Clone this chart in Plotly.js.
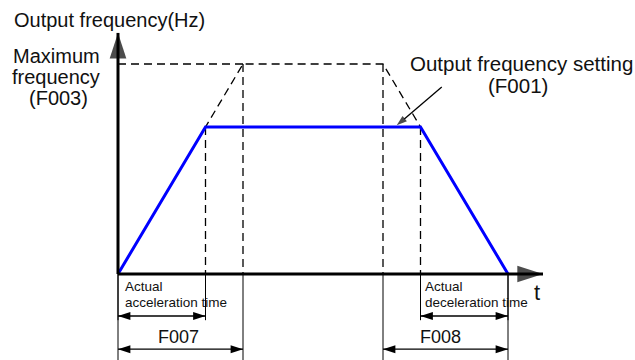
<!DOCTYPE html>
<html>
<head>
<meta charset="utf-8">
<script src="https://cdn.plot.ly/plotly-3.0.1.min.js"></script>
<style>
  html, body { margin: 0; padding: 0; background: #fff; }
  #chart { width: 635px; height: 360px; }
</style>
</head>
<body>
<div id="chart"></div>
<script>
// time in s, frequency in Hz
const outputTime = [0, 7, 24.2, 31.2];      // actual output frequency (blue)
const outputFreq = [0, 35, 35, 0];
const settingTime = [0, 10, 21.2, 31.2];    // ramp to maximum frequency (F007 / F008)
const settingFreq = [0, 50, 50, 0];
const guideTime = [7, 10, 21.2, 24.2];      // dashed drop lines
const guideFreq = [35, 50, 50, 35];
const spanStart = [0, 0, 24.2, 21.2];       // dimension arrows under the axis
const spanEnd = [7, 10, 31.2, 31.2];
const spanRow = ['actual', 'setting', 'actual', 'setting'];
const pointerTime = [25.9, 22.3];
const pointerFreq = [44.5, 35.4];
const axisTipTime = 34;
const axisTipFreq = 57.4;

const rowY = { actual: -10, setting: -17.9 };
const rowExt = { actual: -11, setting: -22 };
const FONT = 'Liberation Sans, Arial, sans-serif';

function initChart() {
    const traces = [];

    // dashed ramp to max frequency + level line from the axis
    traces.push({
        x: [...settingTime, null, 0, settingTime[1]],
        y: [...settingFreq, null, settingFreq[1], settingFreq[1]],
        mode: 'lines',
        line: { color: '#000', width: 1.3, dash: '8px,5px' }
    });

    // dashed drop lines
    const gx = [], gy = [];
    guideTime.forEach((t, i) => { gx.push(t, t, null); gy.push(guideFreq[i], 0, null); });
    traces.push({ x: gx, y: gy, mode: 'lines', line: { color: '#000', width: 1.3, dash: '8px,5px' } });

    // thin extension lines below the time axis
    const ex = [], ey = [];
    spanStart.forEach((s, i) => {
        const e = spanEnd[i];
        const bottom = rowExt[spanRow[i]];
        ex.push(s, s, null, e, e, null);
        ey.push(0, bottom, null, 0, bottom, null);
    });
    traces.push({ x: ex, y: ey, mode: 'lines', line: { color: '#000', width: 1 } });

    // actual output frequency
    traces.push({
        x: outputTime, y: outputFreq, mode: 'lines',
        line: { color: '#0000ff', width: 3 }
    });

    // axes with arrow heads
    traces.push({
        x: [0, 0], y: [0, axisTipFreq], mode: 'lines+markers',
        line: { color: '#000', width: 3, backoff: 10 },
        marker: { symbol: 'arrow', size: [0, 27], angle: [0, 0], color: '#000', line: { width: 0 } }
    });
    traces.push({
        x: [0, axisTipTime], y: [0, 0], mode: 'lines+markers',
        line: { color: '#000', width: 3, backoff: 10 },
        marker: { symbol: 'arrow', size: [0, 27], angle: [90, 90], color: '#000', line: { width: 0 } }
    });

    // dimension arrows
    spanStart.forEach((s, i) => {
        const y = rowY[spanRow[i]];
        traces.push({
            x: [s, spanEnd[i]], y: [y, y], mode: 'lines+markers',
            line: { color: '#000', width: 1.3 },
            marker: { symbol: 'arrow', size: 13, angle: [270, 90], color: '#000', line: { width: 0 } }
        });
    });

    // pointer to the set frequency
    traces.push({
        x: pointerTime, y: pointerFreq, mode: 'lines+markers',
        line: { color: '#000', width: 1.3 },
        marker: { symbol: 'arrow', size: [0, 11], angleref: 'previous', color: '#000', line: { width: 0 } }
    });

    const txt = (text, x, y, size, xanchor) => ({
        text, x, y, xref: 'x', yref: 'y', showarrow: false,
        xanchor: xanchor || 'center', yanchor: 'middle',
        font: { family: FONT, size: size, color: '#111' }
    });

    const annotations = [
        txt('Output frequency(Hz)', -8.48, 60.5, 20, 'left'),
        txt('Maximum', -4.96, 52.0, 20),
        txt('frequency', -4.96, 46.9, 20),
        txt('(F003)', -4.8, 41.8, 20),
        txt('Output frequency setting', 32.28, 50.2, 20.5),
        txt('(F001)', 32.0, 44.8, 20.5),
        txt('t', 33.5, -4.4, 22),
        txt('Actual', 0.4, -2.86, 13.5, 'left'),
        txt('acceleration time', 0.4, -6.67, 13.5, 'left'),
        txt('Actual', 24.4, -2.86, 13.5, 'left'),
        txt('deceleration time', 24.4, -6.67, 13.5, 'left'),
        txt('F007', 4.8, -14.9, 18),
        txt('F008', 25.76, -14.9, 18)
    ];

    const layout = {
        width: 635, height: 360,
        margin: { t: 0, r: 0, b: 0, l: 0 },
        paper_bgcolor: '#fff', plot_bgcolor: '#fff',
        showlegend: false,
        hovermode: false,
        xaxis: { range: [-9.44, 41.36], visible: false, fixedrange: true },
        yaxis: { range: [-20.48, 65.24], visible: false, fixedrange: true },
        annotations
    };

    Plotly.newPlot('chart', traces, layout, { displayModeBar: false, staticPlot: true });
}

initChart();
</script>
</body>
</html>
